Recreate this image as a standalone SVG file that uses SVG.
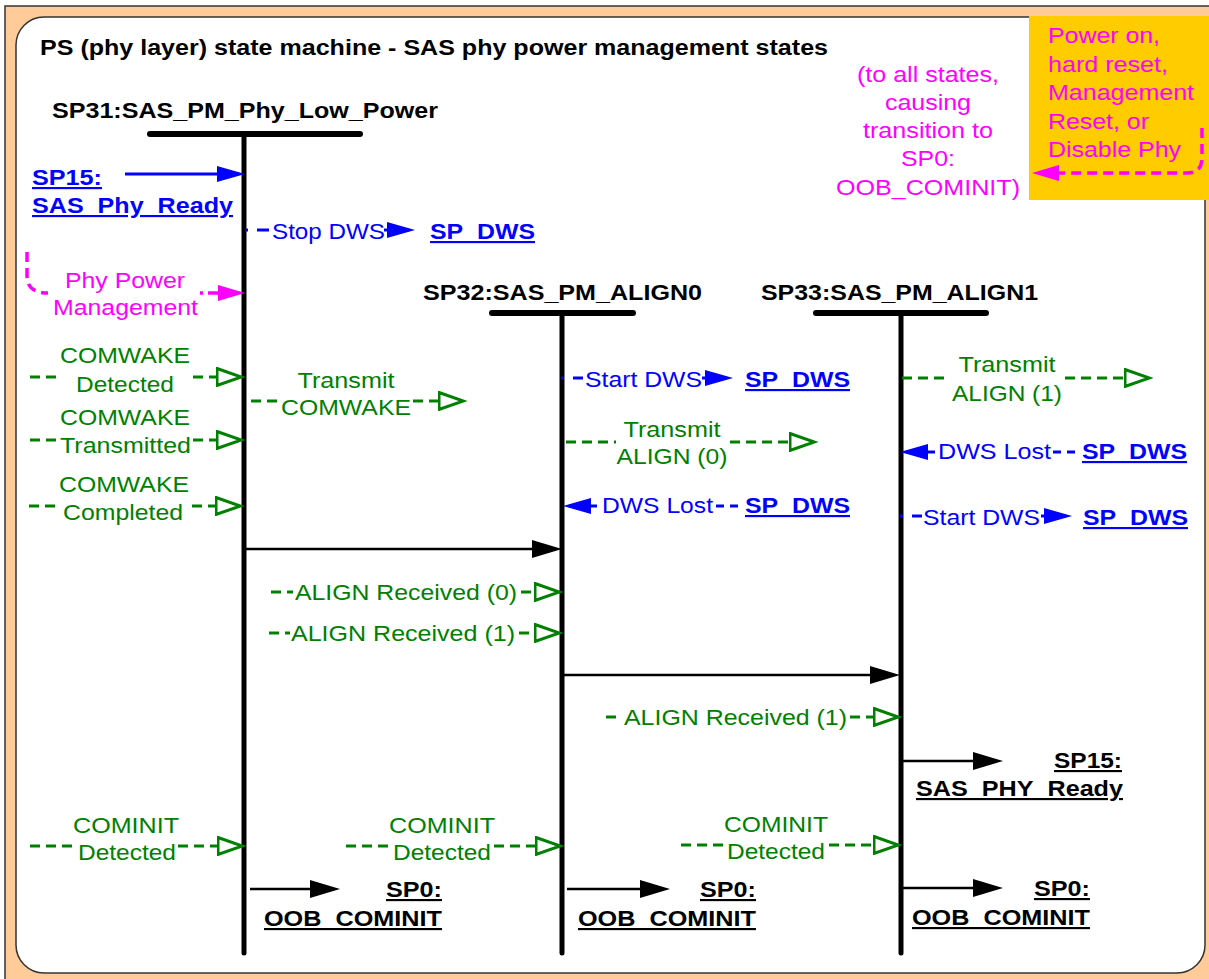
<svg xmlns="http://www.w3.org/2000/svg" width="1209" height="979" viewBox="0 0 1209 979">
<style>
.t{font-family:"Liberation Sans",Arial,sans-serif;font-size:21.5px}
.b{font-weight:bold}
.u{text-decoration:underline}
.g{fill:#008000}.bl{fill:#0000FF}.m{fill:#FF00FF}.k{fill:#000}
.mid{text-anchor:middle}.end{text-anchor:end}
.gl{stroke:#008000;stroke-width:3;stroke-dasharray:10 6;fill:none}
.bll{stroke:#0000FF;stroke-width:3;fill:none}
.bld{stroke:#0000FF;stroke-width:3;fill:none;stroke-dasharray:3 9 12 10}
.bdd{stroke:#0000FF;stroke-width:3;fill:none;stroke-dasharray:8 6}
.kl{stroke:#000;stroke-width:2.5;fill:none}
.ml{stroke:#FF00FF;stroke-width:3.5;stroke-dasharray:10 6;fill:none}
.life{stroke:#000;stroke-width:5;stroke-linecap:round}
.bar{stroke:#000;stroke-width:6;stroke-linecap:round}
</style>
<defs>
<marker id="ab" viewBox="0 0 28 16" refX="22" refY="8" markerWidth="28" markerHeight="16" markerUnits="userSpaceOnUse" orient="auto"><path d="M0,0 L28,8 L0,16 Z" fill="#0000FF"/></marker>
<marker id="ak" viewBox="0 0 30 18" refX="24" refY="9" markerWidth="30" markerHeight="18" markerUnits="userSpaceOnUse" orient="auto"><path d="M0,0 L30,9 L0,18 Z" fill="#000"/></marker>
<marker id="am" viewBox="0 0 27 16" refX="21" refY="8" markerWidth="27" markerHeight="16" markerUnits="userSpaceOnUse" orient="auto"><path d="M0,0 L27,8 L0,16 Z" fill="#FF00FF"/></marker>
<marker id="ag" viewBox="0 0 29 20" refX="1.5" refY="10" markerWidth="29" markerHeight="20" markerUnits="userSpaceOnUse" orient="auto"><path d="M1.5,1.5 L26,10 L1.5,18.5 Z" fill="#fff" stroke="#008000" stroke-width="3" stroke-dasharray="none"/></marker>
</defs>

<g id="frame">
<rect x="5" y="6" width="1220" height="990" fill="#FFCC99" stroke="#333" stroke-width="1.5"/>
<rect x="16" y="17" width="1189" height="956" rx="28" fill="#fff" stroke="#333" stroke-width="1.5"/>
<rect x="1029" y="16" width="185" height="184" fill="#FFCC00"/>
<text class="t b k" x="40" y="55" textLength="788" lengthAdjust="spacingAndGlyphs">PS (phy layer) state machine - SAS phy power management states</text>
</g>

<g id="SP31">
<text class="t b k" x="52" y="118" textLength="386" lengthAdjust="spacingAndGlyphs">SP31:SAS_PM_Phy_Low_Power</text>
<line class="bar" x1="150" y1="134" x2="360" y2="134"/>
<line class="life" x1="244" y1="134" x2="244" y2="953"/>
</g>
<g id="SP32">
<text class="t b k" x="423" y="300" textLength="279" lengthAdjust="spacingAndGlyphs">SP32:SAS_PM_ALIGN0</text>
<line class="bar" x1="492" y1="313" x2="633" y2="313"/>
<line class="life" x1="562" y1="313" x2="562" y2="953"/>
</g>
<g id="SP33">
<text class="t b k" x="761" y="300" textLength="277" lengthAdjust="spacingAndGlyphs">SP33:SAS_PM_ALIGN1</text>
<line class="bar" x1="816" y1="313" x2="986" y2="313"/>
<line class="life" x1="901" y1="313" x2="901" y2="953"/>
</g>

<g id="external">
<text class="t b u bl" x="32" y="185" textLength="70" lengthAdjust="spacingAndGlyphs">SP15:</text>
<text class="t b u bl" x="32" y="213" textLength="201" lengthAdjust="spacingAndGlyphs">SAS_Phy_Ready</text>
<text class="t b u bl" x="430" y="239" textLength="105" lengthAdjust="spacingAndGlyphs">SP_DWS</text>
<text class="t b u bl" x="745" y="387" textLength="105" lengthAdjust="spacingAndGlyphs">SP_DWS</text>
<text class="t b u bl" x="745" y="513" textLength="105" lengthAdjust="spacingAndGlyphs">SP_DWS</text>
<text class="t b u bl" x="1082" y="459" textLength="105" lengthAdjust="spacingAndGlyphs">SP_DWS</text>
<text class="t b u bl" x="1083" y="525" textLength="105" lengthAdjust="spacingAndGlyphs">SP_DWS</text>
<text class="t b u k end" x="1122" y="768" textLength="68" lengthAdjust="spacingAndGlyphs">SP15:</text>
<text class="t b u k end" x="1123" y="796" textLength="207" lengthAdjust="spacingAndGlyphs">SAS_PHY_Ready</text>
<text class="t b u k end" x="442" y="897" textLength="56" lengthAdjust="spacingAndGlyphs">SP0:</text>
<text class="t b u k end" x="442" y="926" textLength="178" lengthAdjust="spacingAndGlyphs">OOB_COMINIT</text>
<text class="t b u k end" x="756" y="897" textLength="56" lengthAdjust="spacingAndGlyphs">SP0:</text>
<text class="t b u k end" x="756" y="926" textLength="178" lengthAdjust="spacingAndGlyphs">OOB_COMINIT</text>
<text class="t b u k end" x="1090" y="896" textLength="56" lengthAdjust="spacingAndGlyphs">SP0:</text>
<text class="t b u k end" x="1090" y="925" textLength="178" lengthAdjust="spacingAndGlyphs">OOB_COMINIT</text>
</g>

<g id="reset">
<text class="t m" x="1048" y="43" textLength="112" lengthAdjust="spacingAndGlyphs">Power on,</text>
<text class="t m" x="1048" y="71.5" textLength="120" lengthAdjust="spacingAndGlyphs">hard reset,</text>
<text class="t m" x="1048" y="100" textLength="146" lengthAdjust="spacingAndGlyphs">Management</text>
<text class="t m" x="1048" y="128.5" textLength="101" lengthAdjust="spacingAndGlyphs">Reset, or</text>
<text class="t m" x="1048" y="157" textLength="133" lengthAdjust="spacingAndGlyphs">Disable Phy</text>
<text class="t m mid" x="928" y="82" textLength="142" lengthAdjust="spacingAndGlyphs">(to all states,</text>
<text class="t m mid" x="928" y="110" textLength="86" lengthAdjust="spacingAndGlyphs">causing</text>
<text class="t m mid" x="928" y="138" textLength="130" lengthAdjust="spacingAndGlyphs">transition to</text>
<text class="t m mid" x="928" y="166" textLength="54" lengthAdjust="spacingAndGlyphs">SP0:</text>
<text class="t m mid" x="928" y="195" textLength="184" lengthAdjust="spacingAndGlyphs">OOB_COMINIT)</text>
</g>

<g id="connectors">
<path class="ml" d="M1202,128 L1202,158 Q1202,173 1187,173 L1038,173" marker-end="url(#am)"/>
<path class="ml" d="M27,252 L27,276 Q27,293 48,293"/>
<line x1="200" y1="293" x2="239" y2="293" stroke="#FF00FF" stroke-width="3.5" stroke-dasharray="3 5 10 30" marker-end="url(#am)"/>
<text class="t m mid" x="125" y="288" textLength="120" lengthAdjust="spacingAndGlyphs">Phy Power</text>
<text class="t m mid" x="125.5" y="315" textLength="145" lengthAdjust="spacingAndGlyphs">Management</text>

<line class="bll" x1="125" y1="174" x2="239" y2="174" marker-end="url(#ab)"/>
<line class="bld" x1="245" y1="230" x2="270" y2="230"/>
<text class="t bl" x="272" y="239" textLength="113" lengthAdjust="spacingAndGlyphs">Stop DWS</text>
<line class="bll" x1="384" y1="230" x2="409" y2="230" marker-end="url(#ab)"/>

<line class="bld" x1="561" y1="378" x2="583" y2="378"/>
<text class="t bl" x="585" y="387" textLength="117" lengthAdjust="spacingAndGlyphs">Start DWS</text>
<line class="bll" x1="702" y1="378" x2="727" y2="378" marker-end="url(#ab)"/>

<line class="bll" x1="597" y1="506" x2="569" y2="506" marker-end="url(#ab)"/>
<text class="t bl" x="602" y="513" textLength="111" lengthAdjust="spacingAndGlyphs">DWS Lost</text>
<line class="bdd" x1="716" y1="506" x2="740" y2="506"/>

<line class="bll" x1="935" y1="452" x2="906" y2="452" marker-end="url(#ab)"/>
<text class="t bl" x="938" y="459" textLength="113" lengthAdjust="spacingAndGlyphs">DWS Lost</text>
<line class="bdd" x1="1053" y1="452" x2="1078" y2="452"/>

<line class="bld" x1="900" y1="516" x2="922" y2="516"/>
<text class="t bl" x="923" y="525" textLength="117" lengthAdjust="spacingAndGlyphs">Start DWS</text>
<line class="bll" x1="1041" y1="516" x2="1066" y2="516" marker-end="url(#ab)"/>

<line class="kl" x1="246" y1="549" x2="556" y2="549" marker-end="url(#ak)"/>
<line class="kl" x1="564" y1="675" x2="894" y2="675" marker-end="url(#ak)"/>
<line class="kl" x1="903" y1="761" x2="997" y2="761" marker-end="url(#ak)"/>
<line class="kl" x1="250" y1="889" x2="334" y2="889" marker-end="url(#ak)"/>
<line class="kl" x1="567" y1="889" x2="664" y2="889" marker-end="url(#ak)"/>
<line class="kl" x1="903" y1="888" x2="997" y2="888" marker-end="url(#ak)"/>

<line class="gl" x1="30" y1="377" x2="58" y2="377"/>
<line class="gl" x1="193" y1="377" x2="217" y2="377" marker-end="url(#ag)"/>
<text class="t g mid" x="125" y="363" textLength="130" lengthAdjust="spacingAndGlyphs">COMWAKE</text>
<text class="t g mid" x="125" y="392" textLength="98" lengthAdjust="spacingAndGlyphs">Detected</text>

<line class="gl" x1="30" y1="440" x2="58" y2="440"/>
<line class="gl" x1="193" y1="440" x2="217" y2="440" marker-end="url(#ag)"/>
<text class="t g mid" x="125" y="425" textLength="130" lengthAdjust="spacingAndGlyphs">COMWAKE</text>
<text class="t g mid" x="125.5" y="453" textLength="131" lengthAdjust="spacingAndGlyphs">Transmitted</text>

<line class="gl" x1="29" y1="506" x2="57" y2="506"/>
<line class="gl" x1="192" y1="506" x2="216" y2="506" marker-end="url(#ag)"/>
<text class="t g mid" x="124" y="492" textLength="130" lengthAdjust="spacingAndGlyphs">COMWAKE</text>
<text class="t g mid" x="123" y="520" textLength="120" lengthAdjust="spacingAndGlyphs">Completed</text>

<line class="gl" x1="251" y1="401" x2="279" y2="401"/>
<line class="gl" x1="413" y1="401" x2="439" y2="401" marker-end="url(#ag)"/>
<text class="t g mid" x="346" y="388" textLength="97" lengthAdjust="spacingAndGlyphs">Transmit</text>
<text class="t g mid" x="346" y="415" textLength="130" lengthAdjust="spacingAndGlyphs">COMWAKE</text>

<line class="gl" x1="566" y1="442" x2="616" y2="442"/>
<line class="gl" x1="730" y1="442" x2="790" y2="442" marker-end="url(#ag)"/>
<text class="t g mid" x="672" y="437" textLength="97" lengthAdjust="spacingAndGlyphs">Transmit</text>
<text class="t g mid" x="672" y="464" textLength="111" lengthAdjust="spacingAndGlyphs">ALIGN (0)</text>

<line class="gl" x1="902" y1="378" x2="949" y2="378"/>
<line class="gl" x1="1065" y1="378" x2="1125" y2="378" marker-end="url(#ag)"/>
<text class="t g mid" x="1007" y="372" textLength="97" lengthAdjust="spacingAndGlyphs">Transmit</text>
<text class="t g mid" x="1007" y="401" textLength="110" lengthAdjust="spacingAndGlyphs">ALIGN (1)</text>

<line class="gl" x1="271" y1="592" x2="293" y2="592"/>
<text class="t g" x="295" y="600" textLength="222" lengthAdjust="spacingAndGlyphs">ALIGN Received (0)</text>
<line class="gl" x1="521" y1="592" x2="535" y2="592" marker-end="url(#ag)"/>

<line class="gl" x1="269" y1="633" x2="290" y2="633"/>
<text class="t g" x="291" y="641" textLength="224" lengthAdjust="spacingAndGlyphs">ALIGN Received (1)</text>
<line class="gl" x1="519" y1="633" x2="535" y2="633" marker-end="url(#ag)"/>

<line class="gl" x1="606" y1="717" x2="622" y2="717"/>
<text class="t g" x="624" y="725" textLength="223" lengthAdjust="spacingAndGlyphs">ALIGN Received (1)</text>
<line class="gl" x1="850" y1="717" x2="874" y2="717" marker-end="url(#ag)"/>

<line class="gl" x1="30" y1="846" x2="72" y2="846"/>
<line class="gl" x1="178" y1="846" x2="218" y2="846" marker-end="url(#ag)"/>
<text class="t g mid" x="126" y="833" textLength="106" lengthAdjust="spacingAndGlyphs">COMINIT</text>
<text class="t g mid" x="127" y="860" textLength="98" lengthAdjust="spacingAndGlyphs">Detected</text>

<line class="gl" x1="346" y1="846" x2="389" y2="846"/>
<line class="gl" x1="494" y1="846" x2="536" y2="846" marker-end="url(#ag)"/>
<text class="t g mid" x="442" y="833" textLength="106" lengthAdjust="spacingAndGlyphs">COMINIT</text>
<text class="t g mid" x="442" y="860" textLength="98" lengthAdjust="spacingAndGlyphs">Detected</text>

<line class="gl" x1="681" y1="845" x2="723" y2="845"/>
<line class="gl" x1="829" y1="845" x2="874" y2="845" marker-end="url(#ag)"/>
<text class="t g mid" x="776" y="832" textLength="104" lengthAdjust="spacingAndGlyphs">COMINIT</text>
<text class="t g mid" x="776" y="859" textLength="98" lengthAdjust="spacingAndGlyphs">Detected</text>
</g>
</svg>
